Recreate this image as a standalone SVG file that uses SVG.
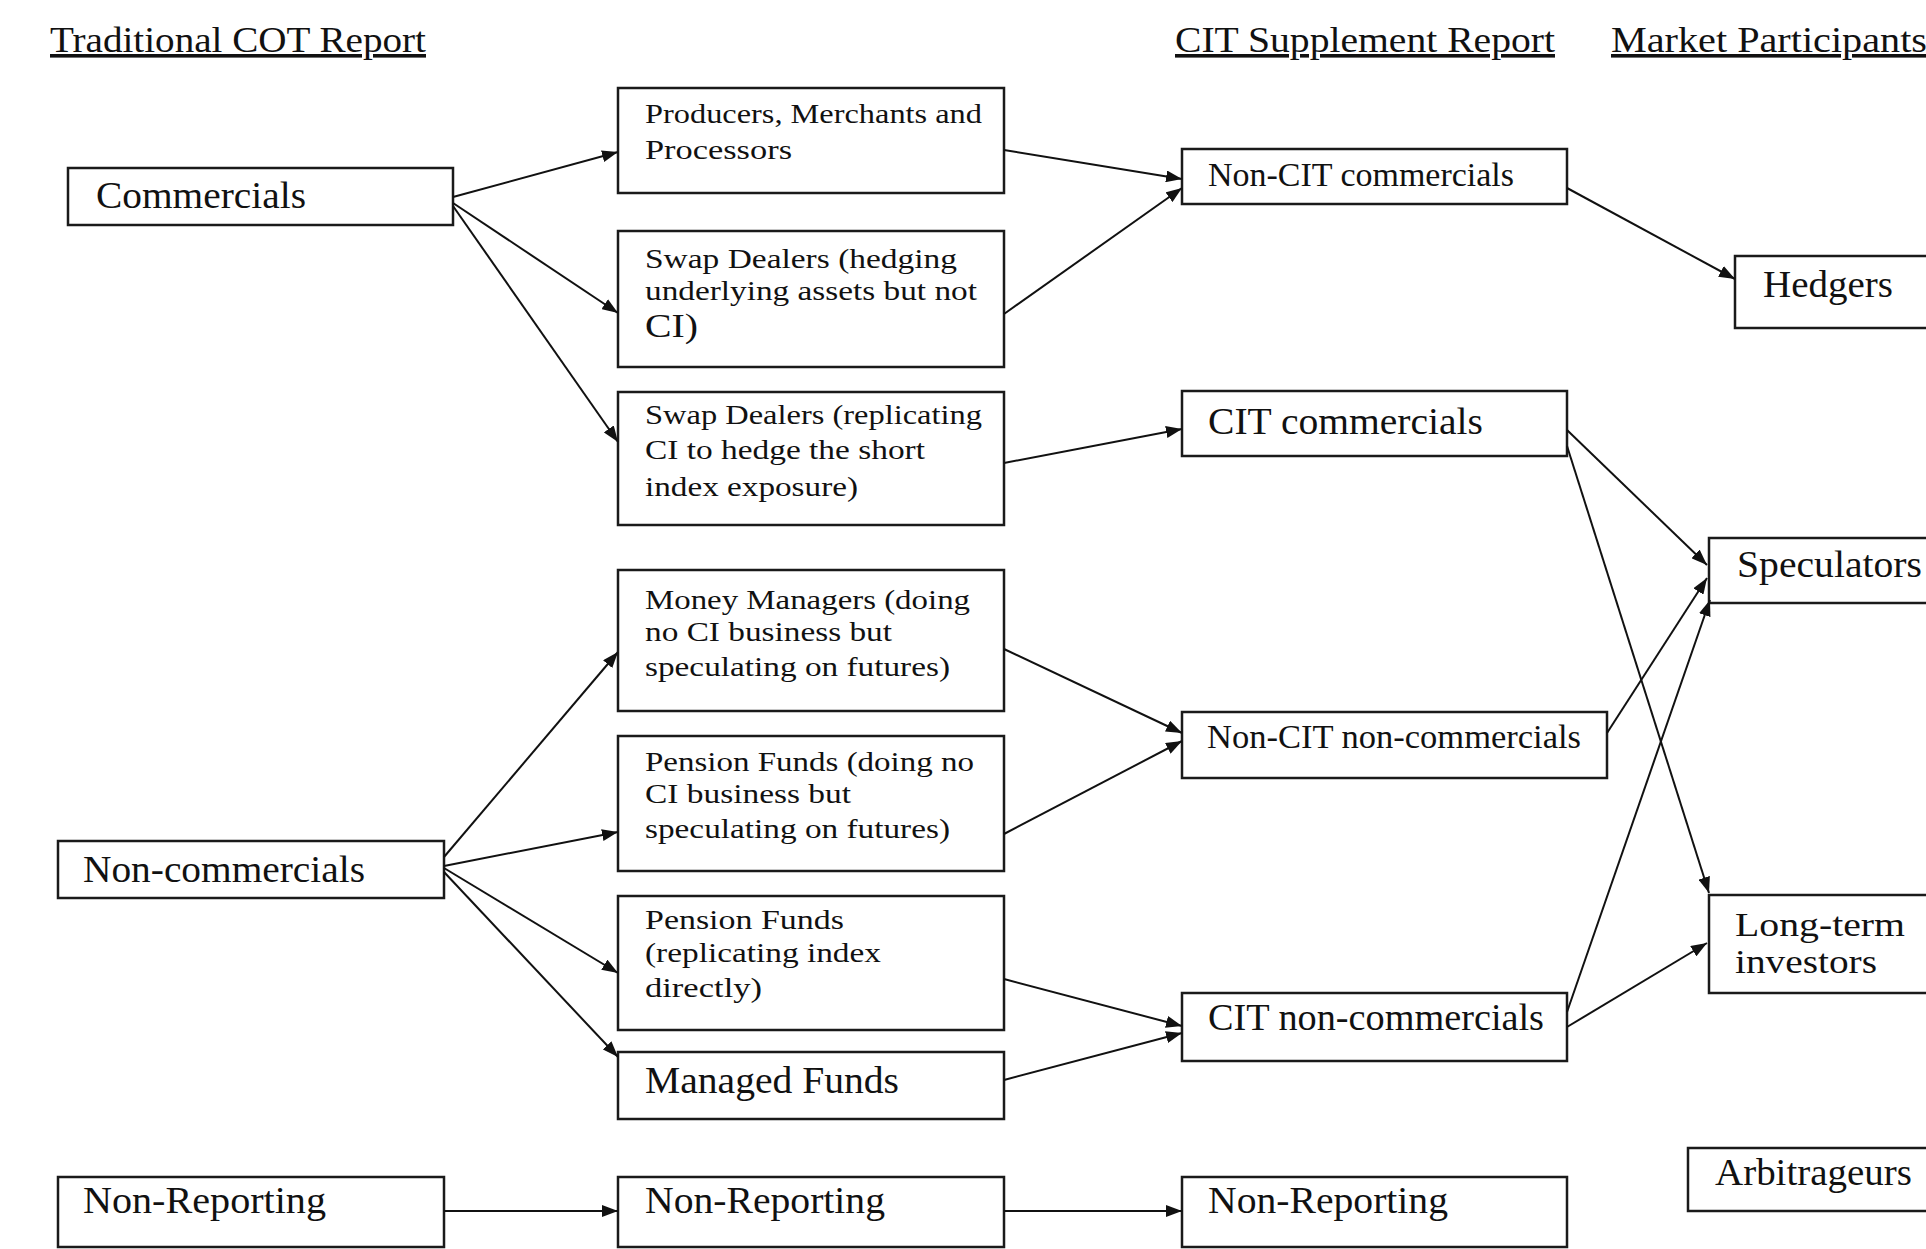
<svg xmlns="http://www.w3.org/2000/svg" width="1926" height="1249" viewBox="0 0 1926 1249">
<defs>
<style>
.box{fill:#fff;stroke:#1a1a1a;stroke-width:2.5}
.t{font-family:"Liberation Serif","Times New Roman",serif;fill:#111;font-size:38px}
.s{font-size:28px}
.m{font-size:34px}
.l{font-size:34px}
.h{font-size:36px;text-decoration:underline}
.c line{stroke:#111;stroke-width:2;marker-end:url(#ah)}
</style>
<marker id="ah" markerUnits="userSpaceOnUse" markerWidth="17" markerHeight="12" refX="16" refY="6" orient="auto">
<path d="M0,0 L16,6 L0,12 z" fill="#111"/>
</marker>
</defs>
<rect width="1926" height="1249" fill="#fff"/>

<g id="headings">
<text class="t h" x="50" y="52" textLength="376" lengthAdjust="spacingAndGlyphs">Traditional COT Report</text>
<text class="t h" x="1175" y="52" textLength="380" lengthAdjust="spacingAndGlyphs">CIT Supplement Report</text>
<text class="t h" x="1611" y="52" textLength="316" lengthAdjust="spacingAndGlyphs">Market Participants</text>
</g>

<g id="commercials"><rect class="box" x="68" y="168" width="385" height="57"/>
<text class="t" x="96" y="208" textLength="210" lengthAdjust="spacingAndGlyphs">Commercials</text></g>

<g id="producers"><rect class="box" x="618" y="88" width="386" height="105"/>
<text class="t s" x="645" y="123" textLength="337" lengthAdjust="spacingAndGlyphs">Producers, Merchants and</text>
<text class="t s" x="645" y="159" textLength="147" lengthAdjust="spacingAndGlyphs">Processors</text></g>

<g id="swap-hedging"><rect class="box" x="618" y="231" width="386" height="136"/>
<text class="t s" x="645" y="268" textLength="312" lengthAdjust="spacingAndGlyphs">Swap Dealers (hedging</text>
<text class="t s" x="645" y="300" textLength="332" lengthAdjust="spacingAndGlyphs">underlying assets but not</text>
<text class="t l" x="645" y="337" textLength="53" lengthAdjust="spacingAndGlyphs">CI)</text></g>

<g id="swap-replicating"><rect class="box" x="618" y="392" width="386" height="133"/>
<text class="t s" x="645" y="424" textLength="337" lengthAdjust="spacingAndGlyphs">Swap Dealers (replicating</text>
<text class="t s" x="645" y="459" textLength="280" lengthAdjust="spacingAndGlyphs">CI to hedge the short</text>
<text class="t s" x="645" y="496" textLength="213" lengthAdjust="spacingAndGlyphs">index exposure)</text></g>

<g id="money-managers"><rect class="box" x="618" y="570" width="386" height="141"/>
<text class="t s" x="645" y="609" textLength="325" lengthAdjust="spacingAndGlyphs">Money Managers (doing</text>
<text class="t s" x="645" y="641" textLength="247" lengthAdjust="spacingAndGlyphs">no CI business but</text>
<text class="t s" x="645" y="676" textLength="305" lengthAdjust="spacingAndGlyphs">speculating on futures)</text></g>

<g id="pension-doing"><rect class="box" x="618" y="736" width="386" height="135"/>
<text class="t s" x="645" y="771" textLength="329" lengthAdjust="spacingAndGlyphs">Pension Funds (doing no</text>
<text class="t s" x="645" y="803" textLength="206" lengthAdjust="spacingAndGlyphs">CI business but</text>
<text class="t s" x="645" y="838" textLength="305" lengthAdjust="spacingAndGlyphs">speculating on futures)</text></g>

<g id="pension-replicating"><rect class="box" x="618" y="896" width="386" height="134"/>
<text class="t s" x="645" y="929" textLength="199" lengthAdjust="spacingAndGlyphs">Pension Funds</text>
<text class="t s" x="645" y="962" textLength="236" lengthAdjust="spacingAndGlyphs">(replicating index</text>
<text class="t s" x="645" y="997" textLength="117" lengthAdjust="spacingAndGlyphs">directly)</text></g>

<g id="managed-funds"><rect class="box" x="618" y="1052" width="386" height="67"/>
<text class="t" x="645" y="1093" textLength="254" lengthAdjust="spacingAndGlyphs">Managed Funds</text></g>

<g id="non-commercials"><rect class="box" x="58" y="841" width="386" height="57"/>
<text class="t" x="83" y="882" textLength="282" lengthAdjust="spacingAndGlyphs">Non-commercials</text></g>

<g id="non-reporting-1"><rect class="box" x="58" y="1177" width="386" height="70"/>
<text class="t" x="83" y="1213" textLength="243" lengthAdjust="spacingAndGlyphs">Non-Reporting</text></g>
<g id="non-reporting-2"><rect class="box" x="618" y="1177" width="386" height="70"/>
<text class="t" x="645" y="1213" textLength="240" lengthAdjust="spacingAndGlyphs">Non-Reporting</text></g>
<g id="non-reporting-3"><rect class="box" x="1182" y="1177" width="385" height="70"/>
<text class="t" x="1208" y="1213" textLength="240" lengthAdjust="spacingAndGlyphs">Non-Reporting</text></g>

<g id="non-cit-commercials"><rect class="box" x="1182" y="149" width="385" height="55"/>
<text class="t m" x="1208" y="186" textLength="306" lengthAdjust="spacingAndGlyphs">Non-CIT commercials</text></g>
<g id="cit-commercials"><rect class="box" x="1182" y="391" width="385" height="65"/>
<text class="t" x="1208" y="434" textLength="275" lengthAdjust="spacingAndGlyphs">CIT commercials</text></g>
<g id="non-cit-non-commercials"><rect class="box" x="1182" y="712" width="425" height="66"/>
<text class="t m" x="1207" y="748" textLength="374" lengthAdjust="spacingAndGlyphs">Non-CIT non-commercials</text></g>
<g id="cit-non-commercials"><rect class="box" x="1182" y="993" width="385" height="68"/>
<text class="t" x="1208" y="1030" textLength="336" lengthAdjust="spacingAndGlyphs">CIT non-commercials</text></g>

<g id="hedgers"><rect class="box" x="1735" y="256" width="205" height="72"/>
<text class="t" x="1763" y="297" textLength="130" lengthAdjust="spacingAndGlyphs">Hedgers</text></g>
<g id="speculators"><rect class="box" x="1709" y="538" width="231" height="65"/>
<text class="t" x="1737" y="577" textLength="185" lengthAdjust="spacingAndGlyphs">Speculators</text></g>
<g id="long-term-investors"><rect class="box" x="1709" y="895" width="231" height="98"/>
<text class="t l" x="1735" y="936" textLength="170" lengthAdjust="spacingAndGlyphs">Long-term</text>
<text class="t l" x="1735" y="973" textLength="142" lengthAdjust="spacingAndGlyphs">investors</text></g>
<g id="arbitrageurs"><rect class="box" x="1688" y="1148" width="252" height="63"/>
<text class="t" x="1715" y="1185" textLength="197" lengthAdjust="spacingAndGlyphs">Arbitrageurs</text></g>

<g id="connectors" class="c">
<line x1="453" y1="197" x2="618" y2="152"/>
<line x1="453" y1="203" x2="618" y2="313"/>
<line x1="453" y1="206" x2="618" y2="442"/>
<line x1="1004" y1="150" x2="1182" y2="179"/>
<line x1="1004" y1="314" x2="1182" y2="188"/>
<line x1="1004" y1="463" x2="1182" y2="429"/>
<line x1="444" y1="857" x2="618" y2="652"/>
<line x1="444" y1="866" x2="618" y2="832"/>
<line x1="444" y1="868" x2="618" y2="973"/>
<line x1="444" y1="872" x2="618" y2="1057"/>
<line x1="1004" y1="649" x2="1182" y2="733"/>
<line x1="1004" y1="834" x2="1182" y2="741"/>
<line x1="1004" y1="979" x2="1182" y2="1026"/>
<line x1="1004" y1="1080" x2="1182" y2="1033"/>
<line x1="1567" y1="188" x2="1735" y2="279"/>
<line x1="1567" y1="430" x2="1707" y2="565"/>
<line x1="1567" y1="446" x2="1709" y2="893"/>
<line x1="1607" y1="733" x2="1707" y2="578"/>
<line x1="1567" y1="1012" x2="1710" y2="600"/>
<line x1="1567" y1="1027" x2="1707" y2="943"/>
<line x1="444" y1="1211" x2="618" y2="1211"/>
<line x1="1004" y1="1211" x2="1182" y2="1211"/>
</g>
</svg>
